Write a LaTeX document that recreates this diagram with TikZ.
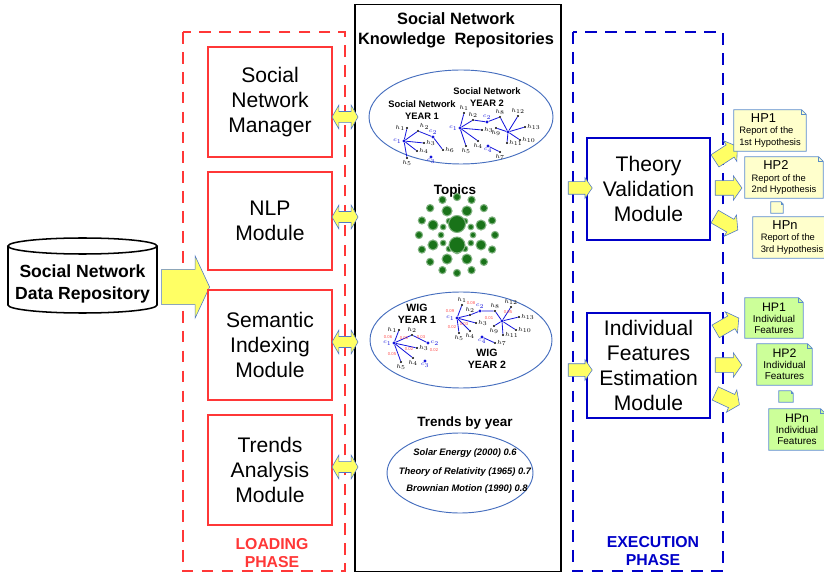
\documentclass[tikz,border=0pt]{standalone}
\usepackage{fontspec}
\setmainfont{Liberation Sans}
\usetikzlibrary{shapes.arrows}

\definecolor{loadred}{RGB}{255,55,55}
\definecolor{execblue}{RGB}{0,0,200}
\definecolor{ringblue}{RGB}{70,110,190}
\definecolor{hubblue}{RGB}{20,20,220}
\definecolor{arrowfill}{RGB}{255,255,100}
\definecolor{arrowedge}{RGB}{80,120,200}
\definecolor{hpyellow}{RGB}{255,255,204}
\definecolor{hpgreen}{RGB}{204,255,153}
\definecolor{hpedge}{RGB}{90,140,200}
\definecolor{topicgreen}{RGB}{25,115,25}

\tikzset{
  module/.style={draw=loadred, line width=1.8pt, inner sep=0pt, minimum width=3.72cm,
    align=center, font=\fontsize{18}{21.5}\selectfont},
  emodule/.style={module, draw=execblue, minimum width=3.69cm},
  phase/.style={line width=2pt, dash pattern=on 10pt off 7pt},
  phaselabel/.style={align=center, font=\bfseries\fontsize{13.5}{15}\selectfont},
  heading/.style={align=center, font=\bfseries\fontsize{11.5}{14}\selectfont},
  ring/.style={draw=ringblue, line width=0.8pt},
  yarrow/.style={single arrow, draw=arrowedge, fill=arrowfill, line width=0.5pt,
    inner xsep=0pt, minimum width=0pt},
  darrow/.style={double arrow, draw=arrowedge, fill=arrowfill, line width=0.5pt,
    inner xsep=0pt, inner ysep=0.155cm, minimum width=0pt, minimum height=0.78cm,
    double arrow head extend=0.19cm, double arrow tip angle=120},
  fanarrow/.style={yarrow, inner ysep=0.21cm, minimum height=0.8cm,
    single arrow head extend=0.15cm, single arrow tip angle=110},
  inarrow/.style={yarrow, inner ysep=0.18cm, minimum height=0.72cm,
    single arrow head extend=0.12cm, single arrow tip angle=110},
  hpnote/.style={fill=hpyellow, inner sep=0pt, align=left, font=\fontsize{8}{9.5}\selectfont},
  gpnote/.style={fill=hpgreen, inner sep=0pt, align=center, font=\fontsize{8.5}{9.5}\selectfont},
  notefold/.style={draw=hpedge, line width=0.6pt},
  hub/.style={circle, fill=hubblue, inner sep=0pt, minimum size=2.6pt},
  leaf/.style={circle, fill=black, inner sep=0pt, minimum size=2pt},
  tag/.style={font=\fontsize{4}{4}\selectfont, inner sep=0.4pt},
  ctag/.style={tag, text=hubblue},
  wtag/.style={font=\fontsize{3.6}{4}\selectfont, text=red!70, inner sep=0pt},
  link/.style={draw=hubblue, line width=0.7pt},
  netlabel/.style={align=center, font=\bfseries\fontsize{8}{10}\selectfont},
  blob/.style={fill=topicgreen, draw=topicgreen!55, line width=0.9pt}
}

\begin{document}
\begin{tikzpicture}[x=0.03cm, y=-0.03cm]
  \useasboundingbox (0,0) rectangle (824,573);

  % phases
  \draw[phase, draw=loadred] (183,32) rectangle (345,571);
  \draw[phase, draw=execblue] (573,32) rectangle (723,571);
  \node[phaselabel, text=loadred] (lp) at (272,553) {LOADING\\PHASE};
  \node[phaselabel, text=execblue] (ep) at (653,551) {EXECUTION\\PHASE};

  % data repository
  \draw[line width=1.3pt] (8,246) -- (8,305) arc[start angle=180, end angle=0, x radius=74.5, y radius=8] -- (157,246);
  \draw[line width=1.3pt] (82.5,246) ellipse [x radius=74.5, y radius=8];
  \node[align=center, font=\bfseries\fontsize{15}{19.5}\selectfont] (sndr) at (82.5,284) {Social Network\\Data Repository};
  \node[yarrow, inner ysep=0.52cm, minimum height=1.44cm, single arrow head extend=0.4cm,
    single arrow tip angle=130] (inarr) at (181.5,287) {};

  % loading modules
  \node[module, minimum height=3.3cm] (snm) at (270,102) {Social\\Network\\Manager};
  \node[module, minimum height=2.94cm] (nlp) at (270,221) {NLP\\Module};
  \node[module, minimum height=3.3cm] (sim) at (270,345) {Semantic\\Indexing\\Module};
  \node[module, minimum height=3.3cm] (tam) at (270,470) {Trends\\Analysis\\Module};

  % repositories
  \node[draw, line width=1.4pt, minimum width=6.18cm, minimum height=17.01cm] (kr) at (458,288) {};
  \node[align=center, font=\bfseries\fontsize{14}{17}\selectfont] (krtitle) at (456,30) {Social Network\\Knowledge~~Repositories};
  \node[darrow] (da1) at (345,117) {};
  \node[darrow] (da2) at (345,217) {};
  \node[darrow] (da3) at (345,342) {};
  \node[darrow] (da4) at (345,467) {};

  % social networks
  \draw[ring] (461,117) ellipse [x radius=92, y radius=47];
  \node[netlabel] (sny1) at (422,110) {Social Network\\YEAR 1};
  \node[netlabel] (sny2) at (487,97) {Social Network\\YEAR 2};
  \node[hub, label={[ctag]left:$c_1$}] (sa1) at (404,141) {};
  \node[hub, label={[ctag]above:$c_2$}] (sa2) at (433,137) {};
  \node[hub, label={[ctag]below:$c_3$}] (sa3) at (431,157) {};
  \foreach \i/\x/\y/\p in {1/407/128/left, 2/418/131/above right, 3/424/143/right, 4/417/151/right, 5/407/158/below}{
    \node[leaf, label={[tag]\p:$h_{\i}$}] (sah\i) at (\x,\y) {};
    \draw[link] (sa1) -- (sah\i);
  }
  \node[leaf, label={[tag]right:$h_6$}] (sah6) at (443,150) {};
  \draw[link] (sah2) -- (sa2) -- (sah6);
  \node[hub, label={[ctag]left:$c_1$}] (sb1) at (460,128) {};
  \node[hub, label={[ctag]above:$c_2$}] (sb2) at (487,122) {};
  \node[hub] (sb3) at (508,132) {};
  \node[hub, label={[ctag]below:$c_4$}] (sb4) at (488,146) {};
  \foreach \i/\x/\y/\p in {1/464/113/above, 2/473/120/above, 3/482/130/right, 4/478/141/below, 5/466/146/below}{
    \node[leaf, label={[tag]\p:$h_{\i}$}] (sbh\i) at (\x,\y) {};
    \draw[link] (sb1) -- (sbh\i);
  }
  \foreach \i/\x/\y/\p in {9/496/128/below, 10/520/140/right, 11/507/143/right, 12/518/116/above, 13/525/127/right}{
    \node[leaf, label={[tag]\p:$h_{\i}$}] (sbh\i) at (\x,\y) {};
    \draw[link] (sb3) -- (sbh\i);
  }
  \node[leaf, label={[tag]above:$h_8$}] (sbh8) at (500,117) {};
  \node[leaf, label={[tag]below:$h_7$}] (sbh7) at (500,152) {};
  \draw[link] (sbh2) -- (sb2) -- (sbh8) -- (sb3);
  \draw[link] (sb4) -- (sbh7);

  % topics
  \node[heading] (topics) at (455,191) {Topics};
  \coordinate (tc) at (457,235);
  \foreach \a in {0,22.5,...,337.5} \fill[blob] (tc) ++(\a:38) circle (3.6);
  \foreach \a in {22.5,67.5,...,337.5} \fill[blob] (tc) ++(\a:26) circle (5);
  \foreach \a in {0,30,...,330} \fill[blob] (tc) ++(\a:16) circle (2.8);
  \fill[blob] (457,224) circle (8.5);
  \fill[blob] (457,245) circle (8);

  % word interest graphs
  \draw[ring] (461,340) ellipse [x radius=91, y radius=48];
  \node[netlabel, font=\bfseries\fontsize{9}{10.5}\selectfont] (wig1) at (417,314) {WIG\\YEAR 1};
  \node[netlabel, font=\bfseries\fontsize{9}{10.5}\selectfont] (wig2) at (487,359) {WIG\\YEAR 2};
  \node[hub, label={[ctag]left:$c_1$}] (wa1) at (394,343) {};
  \node[hub, label={[ctag]right:$c_2$}] (wa2) at (428,343) {};
  \node[hub, label={[ctag]below:$c_3$}] (wa3) at (425,361) {};
  \foreach \i/\x/\y/\p in {1/399/330/left, 2/412/335/above, 3/417/348/right, 4/413/358/below, 5/401/362/below}{
    \node[leaf, label={[tag]\p:$h_{\i}$}] (wah\i) at (\x,\y) {};
    \draw[link] (wa1) -- (wah\i);
  }
  \draw[link] (wah2) -- (wa2);
  \foreach \i/\x/\y/\w in {1/388/337/0.06, 2/404/338/0.01, 3/409/349/0.02, 4/392/354/0.05, 5/421/337/0.03, 6/434/350/0.02}
    \node[wtag] (waw\i) at (\x,\y) {\w};
  \node[hub, label={[ctag]left:$c_1$}] (wb1) at (457,318) {};
  \node[hub, label={[ctag]above:$c_2$}] (wb2) at (480,311) {};
  \node[hub] (wb3) at (502,321) {};
  \node[hub, label={[ctag]below:$c_4$}] (wb4) at (482,337) {};
  \foreach \i/\x/\y/\p in {1/462/305/above, 2/470/315/above, 3/476/323/right, 4/470/331/below, 5/459/333/below}{
    \node[leaf, label={[tag]\p:$h_{\i}$}] (wbh\i) at (\x,\y) {};
    \draw[link] (wb1) -- (wbh\i);
  }
  \foreach \i/\x/\y/\p in {9/494/326/below, 10/516/330/right, 11/503/335/right, 12/511/307/above, 13/519/317/right}{
    \node[leaf, label={[tag]\p:$h_{\i}$}] (wbh\i) at (\x,\y) {};
    \draw[link] (wb3) -- (wbh\i);
  }
  \node[leaf, label={[tag]above:$h_8$}] (wbh8) at (495,311) {};
  \node[leaf, label={[tag]right:$h_7$}] (wbh7) at (495,343) {};
  \draw[link] (wbh2) -- (wb2) -- (wbh8) -- (wb3);
  \draw[link] (wb4) -- (wbh7);
  \foreach \i/\x/\y/\w in {1/450/311/0.09, 2/464/324/0.03, 3/452/327/0.02, 4/471/303/0.08, 5/489/318/0.01, 6/508/312/0.05}
    \node[wtag] (wbw\i) at (\x,\y) {\w};

  % trends
  \node[heading] (trends) at (465,423) {Trends by year};
  \draw[ring] (460,473) ellipse [x radius=73, y radius=40];
  \node[font=\bfseries\itshape\fontsize{8}{9}\selectfont] (tr1) at (465,453) {Solar Energy (2000) 0.6};
  \node[font=\bfseries\itshape\fontsize{8}{9}\selectfont] (tr2) at (465,472) {Theory of Relativity (1965) 0.7};
  \node[font=\bfseries\itshape\fontsize{8}{9}\selectfont] (tr3) at (467,489) {Brownian Motion (1990) 0.8};

  % execution modules
  \node[emodule, minimum height=3.06cm] (tvm) at (648.5,189) {Theory\\Validation\\Module};
  \node[emodule, minimum height=3.15cm] (ifem) at (648.5,365.5) {Individual\\Features\\Estimation\\Module};
  \node[inarrow] (ta) at (578,188) {};
  \node[inarrow] (ia) at (578,370) {};
  \node[fanarrow, rotate=33] (tf1) at (724,155) {};
  \node[fanarrow] (tf2) at (726,188) {};
  \node[fanarrow, rotate=-30] (tf3) at (724,222) {};
  \node[fanarrow, rotate=30] (if1) at (725,326) {};
  \node[fanarrow] (if2) at (726,365) {};
  \node[fanarrow, rotate=-25] (if3) at (725,398) {};

  % hypothesis reports
  \node[hpnote, minimum width=2.16cm, minimum height=1.23cm] (r1) at (770,130.5)
    {\hspace*{10pt}{\fontsize{11}{12}\selectfont HP1}\\Report of the\\1st Hypothesis};
  \node[hpnote, minimum width=2.34cm, minimum height=1.23cm] (r2) at (784,177.5)
    {\hspace*{10pt}{\fontsize{11}{12}\selectfont HP2}\\Report of the\\2nd Hypothesis};
  \node[hpnote, minimum width=0.36cm, minimum height=0.33cm] (rd) at (777,207.5) {};
  \node[hpnote, minimum width=2.34cm, minimum height=1.23cm] (r3) at (792,237.5)
    {\hspace*{10pt}{\fontsize{11}{12}\selectfont HPn}\\Report of the\\3rd Hypothesis};
  \node[gpnote, minimum width=1.74cm, minimum height=1.2cm] (g1) at (774,318)
    {{\fontsize{10.5}{12}\selectfont HP1}\\Individual\\Features};
  \node[gpnote, minimum width=1.65cm, minimum height=1.23cm] (g2) at (784.5,364.5)
    {{\fontsize{10.5}{12}\selectfont HP2}\\Individual\\Features};
  \node[gpnote, minimum width=0.42cm, minimum height=0.33cm] (gd) at (786,396.5) {};
  \node[gpnote, minimum width=1.68cm, minimum height=1.23cm] (g3) at (797,429.5)
    {{\fontsize{10.5}{12}\selectfont HPn}\\Individual\\Features};
  \foreach \n/\f in {r1/4pt, r2/4pt, rd/2pt, r3/4pt, g1/4pt, g2/4pt, gd/2pt, g3/4pt}{
    \fill[white] ([xshift=-\f]\n.north east) -- (\n.north east) -- ([yshift=-\f]\n.north east) -- cycle;
    \draw[notefold] (\n.north west) -- ([xshift=-\f]\n.north east) -- ([yshift=-\f]\n.north east)
      -- (\n.south east) -- (\n.south west) -- cycle;
    \draw[notefold] ([xshift=-\f]\n.north east) |- ([yshift=-\f]\n.north east);
  }
\end{tikzpicture}
\end{document}
